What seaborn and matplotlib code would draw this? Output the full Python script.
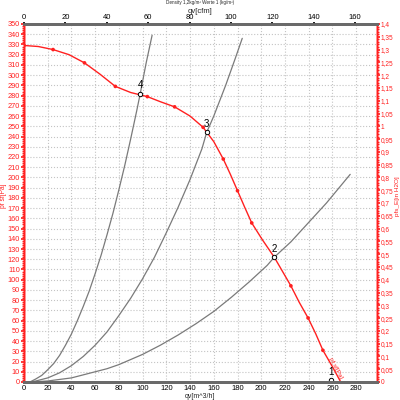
import matplotlib
matplotlib.use("Agg")
import matplotlib.pyplot as plt
from matplotlib.ticker import MultipleLocator, FuncFormatter
import numpy as np
import pandas as pd
import seaborn as sns

# fan curve (static pressure vs. flow)
fan_qv = [0, 12, 24.5, 38, 51, 64, 77, 90, 104, 115, 127, 140, 151, 160, 168, 174,
          180, 186, 192, 201, 211, 218, 225, 232, 239.5, 246, 252, 260, 267]
fan_p = [329, 328, 325, 320, 312, 301, 289, 283, 279, 274, 269, 260, 249, 235, 218, 203,
         187, 171, 155.5, 139, 122, 108, 94, 78, 62.6, 47, 31, 15, 0]
marker_qv = [0, 24.5, 51, 77, 104, 127, 151, 168, 180, 192, 225, 239.5, 252]
marker_p = [329, 325, 312, 289, 279, 269, 249, 218, 187, 155.5, 94, 62.6, 31]

# system curves
sys1_qv = [5, 10, 15, 20, 25, 30, 35, 40, 45, 50, 55, 60, 65, 70, 75, 80, 85, 90, 95, 98, 103, 108]
sys1_p = [0, 3, 6.5, 12, 18, 26, 36, 47, 60, 74, 89, 106, 124, 144, 165, 188, 212, 238, 265, 282, 312, 339]
sys2_qv = [5, 10, 20, 30, 40, 50, 60, 70, 80, 90, 100, 110, 120, 130, 140, 150, 154, 160, 170, 178, 184]
sys2_p = [0, 1, 4, 9, 16, 25, 36, 49, 65, 82, 101, 122, 146, 171, 198, 228, 244, 260, 290, 316, 336]
sys3_qv = [5, 20, 30, 40, 50, 60, 70, 80, 90, 100, 115, 130, 145, 160, 175, 190, 205, 211, 225, 240, 255, 275]
sys3_p = [0, 1, 2.5, 4, 7, 10, 13, 17, 22, 27, 36, 46, 57, 69, 83, 98, 114, 122, 137, 156, 175, 203]

# operating points
op_labels = ["4", "3", "2", "1"]
op_qv = [98, 154, 211, 259]
op_p = [282, 244, 122, 2]

sns.set_theme(style="white")
plt.rcParams['font.family'] = ['Liberation Sans', 'DejaVu Sans']

RED = "#ff2020"
fig = plt.figure(figsize=(4, 4), dpi=100)
ax = fig.add_axes([0.06, 0.045, 0.8825, 0.895])

for q, p in [(sys1_qv, sys1_p), (sys2_qv, sys2_p), (sys3_qv, sys3_p)]:
    sns.lineplot(x=q, y=p, ax=ax, color="#7a7a7a", linewidth=0.9, sort=False)
sns.lineplot(x=fan_qv, y=fan_p, ax=ax, color=RED, linewidth=1.0, sort=False)
sns.scatterplot(x=marker_qv, y=marker_p, ax=ax, color=RED, s=7, edgecolor="none", zorder=5)
sns.scatterplot(x=op_qv, y=op_p, ax=ax, facecolor="white", edgecolor="black", s=10, linewidth=0.7, zorder=6)
for lab, q, p in zip(op_labels, op_qv, op_p):
    ax.text(q, p + 3, lab, fontsize=7, ha="center", va="bottom", color="black", zorder=7)

ax.text(263, 14, "pf sf[Pa]", color=RED, fontsize=4.5, rotation=-62, ha="center", va="center")

ax.set_xlim(0, 297.6)
ax.set_ylim(0, 350)
ax.xaxis.set_major_locator(MultipleLocator(20))
ax.yaxis.set_major_locator(MultipleLocator(10))
ax.yaxis.set_minor_locator(MultipleLocator(2))
ax.grid(True, which="major", linestyle=":", color="#c4c4c4", linewidth=0.8)
ax.set_axisbelow(True)

ax.tick_params(axis="x", labelsize=5.5, length=1.5, pad=0.5, colors="black")
ax.tick_params(axis="y", which="both", labelsize=5.3, colors=RED, pad=0.5, direction="out")
ax.tick_params(axis="y", which="major", length=2.5)
ax.tick_params(axis="y", which="minor", length=1.2, left=True)

ax2 = ax.twinx()
ax2.set_ylim(0, 1.4)
ax2.yaxis.set_major_locator(MultipleLocator(0.05))
ax2.yaxis.set_minor_locator(MultipleLocator(0.01))
ax2.yaxis.set_major_formatter(FuncFormatter(lambda v, pos: ("%g" % round(v, 2)).replace(".", ",")))
ax2.tick_params(axis="y", which="both", labelsize=4.7, colors=RED, pad=0.3, direction="out")
ax2.tick_params(axis="y", which="major", length=2.2)
ax2.tick_params(axis="y", which="minor", length=1.2, right=True)
ax2.grid(False)

ax3 = ax.twiny()
ax3.set_xlim(0, 170.6)
ax3.xaxis.set_major_locator(MultipleLocator(20))
ax3.tick_params(axis="x", labelsize=5.5, length=1.5, pad=0.5, colors="black")
ax3.grid(False)

for a in (ax, ax2, ax3):
    a.spines["left"].set_color(RED)
    a.spines["right"].set_color(RED)
    a.spines["top"].set_color("#6a6a6a")
    a.spines["bottom"].set_color("#6a6a6a")
    a.spines["top"].set_linewidth(2)
    a.spines["bottom"].set_linewidth(2)
    a.spines["left"].set_linewidth(1)
    a.spines["right"].set_linewidth(1)

# axis titles placed by figure position
fig.text(0.5, 0.001, "qv[m^3/h]", fontsize=5, ha="center", va="bottom")
fig.text(0.5, 0.972, "qv[cfm]", fontsize=5.5, ha="center", va="center")
fig.text(0.001, 0.51, "pf sf[Pa]", fontsize=4.8, color=RED, rotation=90, ha="left", va="center")
fig.text(0.9995, 0.51, "pfs_E[in H2O]", fontsize=4.6, color=RED, rotation=90, ha="right", va="center")
fig.text(0.5, 0.999, "Density 1,2kg/m\u00b3 Werte 1 (kg/m\u00b3)", fontsize=3.3, ha="center", va="top")

fig.savefig("out.png", dpi=100)
